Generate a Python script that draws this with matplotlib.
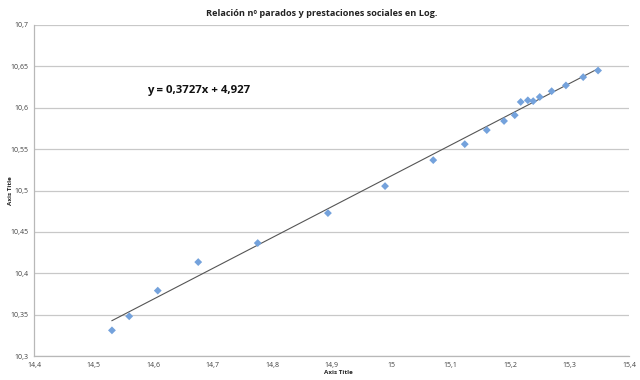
import matplotlib
matplotlib.use("Agg")
import matplotlib.pyplot as plt
import numpy as np

x_vals = [14.531, 14.560, 14.608, 14.676, 14.776, 14.894, 14.990, 15.071, 15.124, 15.161,
          15.190, 15.208, 15.218, 15.230, 15.239, 15.250, 15.270, 15.294, 15.323, 15.348]
y_vals = [10.331, 10.348, 10.379, 10.4135, 10.4365, 10.4727, 10.5053, 10.5367, 10.556, 10.573,
          10.584, 10.591, 10.607, 10.609, 10.608, 10.613, 10.620, 10.627, 10.637, 10.645]
slope = 0.3727
intercept = 4.927
x_ticks = [14.4, 14.5, 14.6, 14.7, 14.8, 14.9, 15.0, 15.1, 15.2, 15.3, 15.4]
x_tick_labels = ["14,4", "14,5", "14,6", "14,7", "14,8", "14,9", "15", "15,1", "15,2", "15,3", "15,4"]
y_ticks = [10.3, 10.35, 10.4, 10.45, 10.5, 10.55, 10.6, 10.65, 10.7]
y_tick_labels = ["10,3", "10,35", "10,4", "10,45", "10,5", "10,55", "10,6", "10,65", "10,7"]

plt.rcParams['font.family'] = ['Open Sans', 'DejaVu Sans']

fig = plt.figure(figsize=(6.4, 3.8), dpi=100)
ax = fig.add_axes([34/640, 1-356/380, (629-34)/640, (356-25)/380])

ax.set_xlim(14.4, 15.4)
ax.set_ylim(10.3, 10.7)
ax.set_xticks(x_ticks)
ax.set_xticklabels(x_tick_labels)
ax.set_yticks(y_ticks)
ax.set_yticklabels(y_tick_labels)
ax.tick_params(axis='both', length=0, labelsize=5, colors='#404040', pad=4)

ax.grid(axis='y', color='#c8c8c8', linewidth=0.9)
ax.set_axisbelow(True)
for s in ['top', 'right']:
    ax.spines[s].set_visible(False)
for s in ['left', 'bottom']:
    ax.spines[s].set_color('#b8b8b8')
    ax.spines[s].set_linewidth(0.9)

xs = np.array([min(x_vals), max(x_vals)])
ax.plot(xs, slope * xs + intercept, color='#555555', linewidth=0.8, zorder=2)
ax.scatter(x_vals, y_vals, marker='D', s=16, color='#74a2dc', edgecolors='none', zorder=3)

fig.text(322/640, 1-13/380, "Relación nº parados y prestaciones sociales en Log.",
         ha='center', va='center', fontsize=6.6, fontweight='bold', color='#222222')
ax.text(14.59, 10.621, "y = 0,3727x + 4,927", fontsize=8.2, fontweight='bold', color='#111111',
        va='center', ha='left')
fig.text(338/640, 1-373/380, "Axis Title", ha='center', va='center', fontsize=4.5,
         fontweight='bold', color='#222222')
fig.text(10/640, 1-191/380, "Axis Title", ha='center', va='center', fontsize=4.5,
         fontweight='bold', color='#222222', rotation=90)

fig.savefig("out.png", dpi=100)
